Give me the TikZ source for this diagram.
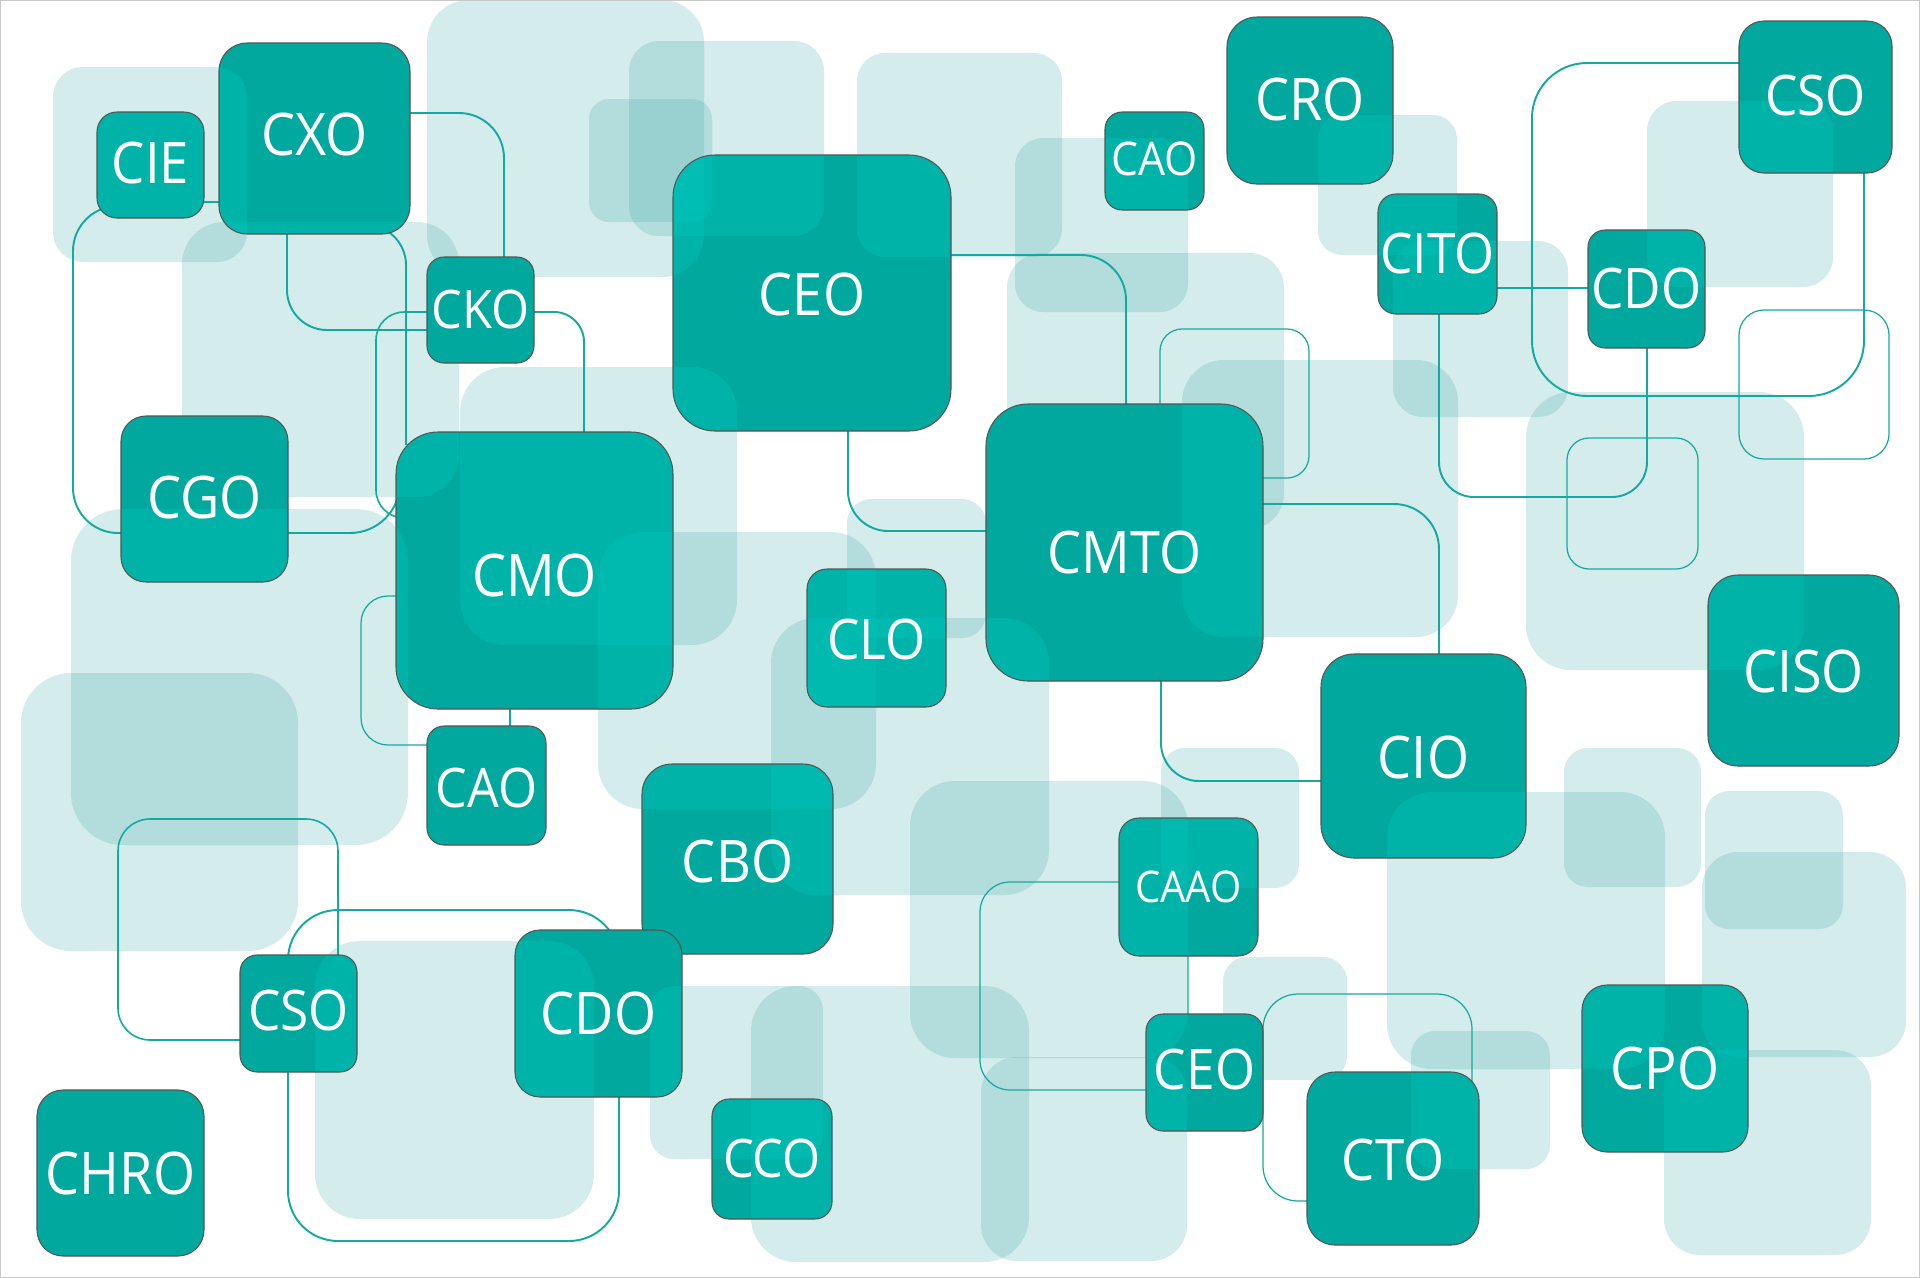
\documentclass[tikz,border=0pt]{standalone}
\usepackage{fontspec}
\newfontfamily\labfont[FakeStretch=0.92]{Open Sans}
\usetikzlibrary{calc}
\definecolor{boxc}{RGB}{0,168,157}
\definecolor{brightc}{RGB}{0,200,190}
\definecolor{lightc}{RGB}{70,173,173}
\definecolor{linec}{RGB}{20,170,160}
\definecolor{edgec}{RGB}{85,85,85}
\definecolor{framec}{RGB}{200,200,200}

% light square: x1 y1 x2 y2 radius(cm)
\newcommand\lsq[5]{\fill[rounded corners=#5cm] (#1,#2) rectangle (#3,#4);}
\newcommand\defsq[6]{\expandafter\def\csname lsqX#1\endcsname{\lsq{#2}{#3}{#4}{#5}{#6}}}
\newcommand\usesq[1]{\csname lsqX#1\endcsname}

\defsq{1}{53}{67}{247}{262}{0.30}
\defsq{2}{182}{222}{459}{497}{0.42}
\defsq{3}{427}{0}{704}{277}{0.42}
\defsq{4}{589}{99}{712}{222}{0.20}
\defsq{5}{629}{41}{824}{236}{0.30}
\defsq{6}{857}{53}{1062}{257}{0.28}
\defsq{7}{1015}{138}{1188}{312}{0.28}
\defsq{8}{1007}{253}{1284}{529}{0.35}
\defsq{9}{1182}{360}{1458}{637}{0.42}
\defsq{10}{1318}{115}{1457}{255}{0.24}
\defsq{11}{1393}{241}{1568}{417}{0.30}
\defsq{12}{1647}{101}{1833}{287}{0.30}
\defsq{13}{1526}{392}{1804}{670}{0.45}
\defsq{14}{71}{509}{408}{845}{0.52}
\defsq{15}{21}{673}{298}{951}{0.50}
\defsq{16}{598}{532}{876}{809}{0.45}
\defsq{17}{460}{367}{737}{645}{0.45}
\defsq{18}{771}{618}{1049}{895}{0.45}
\defsq{19}{847}{499}{986}{638}{0.24}
\defsq{20}{910}{781}{1188}{1058}{0.45}
\defsq{21}{1161}{748}{1299}{888}{0.24}
\defsq{23}{1564}{748}{1701}{887}{0.24}
\defsq{24}{1705}{791}{1843}{929}{0.24}
\defsq{25}{1702}{852}{1906}{1057}{0.36}
\defsq{26}{1387}{792}{1665}{1069}{0.45}
\defsq{27}{1664}{1050}{1871}{1255}{0.36}
\defsq{28}{1411}{1031}{1550}{1169}{0.24}
\defsq{29}{1223}{957}{1347}{1080}{0.24}
\defsq{30}{981}{1057}{1187}{1261}{0.36}
\defsq{31}{751}{986}{1029}{1262}{0.45}
\defsq{32}{650}{986}{823}{1159}{0.24}
\defsq{33}{315}{941}{594}{1219}{0.45}

% dark box: name, corner1, corner2, radius, overlapping squares, font size, text dy, text
\newcommand\dbox[8]{%
  \fill[boxc, rounded corners=#4cm] (#2) rectangle (#3);
  \begin{scope}
    \clip[rounded corners=#4cm] (#2) rectangle (#3);
    \begin{scope}[fill=brightc, fill opacity=0.35]
      \foreach \k in {#5} {\usesq{\k}}
    \end{scope}
  \end{scope}
  \draw[edgec, line width=0.3pt, rounded corners=#4cm] (#2) rectangle (#3);
  \node[text=white, inner sep=0pt, font=\labfont\fontsize{#6}{#6}\selectfont]
    (#1) at ($(#2)!0.5!(#3)+(0,#7)$) {#8};
}

\tikzset{
  conn/.style={draw=linec, line width=0.55pt},
  connm/.style={draw=linec, line width=0.45pt},
  connt/.style={draw=linec, line width=0.35pt}
}

\begin{document}
\begin{tikzpicture}[x=0.01cm, y=-0.01cm]
\useasboundingbox (0,0) rectangle (1920,1278);
\fill[white] (0,0) rectangle (1920,1278);
\clip (0,0) rectangle (1920,1278);

% light background squares
\begin{scope}[fill=lightc, fill opacity=0.23]
  \foreach \k in {1,2,3,4,5,6,7,8,9,10,11,12,13,14,15,16,17,18,19,20,21,23,24,25,26,27,28,29,30,31,32,33} {\usesq{\k}}
\end{scope}

% connectors
\draw[conn, rounded corners=0.45cm] (150,206) -| (73,533) -- (125,533);
\draw[connm] (204,202) -- (219,202);
\draw[conn, rounded corners=0.45cm] (405,113) -| (504,260);
\draw[conn, rounded corners=0.4cm] (287,230) |- (430,330);
\draw[conn, rounded corners=0.4cm] (340,225) -| (406,445);
\draw[connm, rounded corners=0.28cm] (430,312) -| (376,518) -- (420,518);
\draw[conn, rounded corners=0.5cm] (285,533) -| (400,470);
\draw[conn, rounded corners=0.3cm] (530,312) -| (584,436);
\draw[connt, rounded corners=0.27cm] (400,596) -| (361,745) -- (430,745);
\draw[connm] (510,705) -- (510,730);
\draw[conn, rounded corners=0.4cm] (848,428) |- (990,531);
\draw[conn, rounded corners=0.45cm] (948,255) -| (1126,408);
\draw[connt, rounded corners=0.22cm] (1160,329) rectangle (1309,478);
\draw[conn, rounded corners=0.45cm] (1260,504) -| (1439,658);
\draw[conn, rounded corners=0.38cm] (1161,678) |- (1325,781);
\draw[conn, rounded corners=0.35cm] (1439,310) |- (1647,497) -- (1647,344);
\draw[connm] (1497,288) -- (1588,288);
\draw[conn, rounded corners=0.55cm] (1532,63) rectangle (1864,396);
\draw[connt, rounded corners=0.25cm] (1739,310) rectangle (1889,459);
\draw[connt, rounded corners=0.22cm] (1567,438) rectangle (1698,569);
\draw[connm, rounded corners=0.32cm] (118,819) rectangle (338,1040);
\draw[conn, rounded corners=0.5cm] (288,910) rectangle (619,1241);
\draw[connt, rounded corners=0.3cm] (980,882) rectangle (1188,1090);
\draw[connt, rounded corners=0.35cm] (1263,994) rectangle (1472,1201);

% dark boxes
\dbox{CIE}{97,112}{204,218}{0.20}{1}{16.3}{-2}{CIE}
\dbox{CXO}{219,43}{410,234}{0.28}{1,2}{16.7}{-4}{CXO}
\dbox{CKO}{427,257}{534,363}{0.17}{}{15.1}{-1}{CKO}
\dbox{CEO}{673,155}{951,431}{0.42}{3,4,5,6,17}{16.7}{1}{CEO}
\dbox{CAOa}{1105,112}{1204,210}{0.17}{7}{13.2}{-2}{CAO}
\dbox{CRO}{1227,17}{1393,184}{0.30}{10}{16.7}{-1}{CRO}
\dbox{CITO}{1378,194}{1497,314}{0.18}{10,11}{15.9}{-1}{CITO}
\dbox{CSOa}{1739,21}{1892,173}{0.25}{12}{15.9}{-2}{CSO}
\dbox{CDOa}{1588,230}{1705,348}{0.17}{12}{15.9}{-1}{CDO}
\dbox{CGO}{121,416}{288,582}{0.25}{14}{16.7}{-2}{CGO}
\dbox{CMO}{396,432}{673,709}{0.42}{2,14,16,17}{16.7}{5}{CMO}
\dbox{CAOb}{427,726}{546,845}{0.17}{}{15.5}{2}{CAO}
\dbox{CLO}{807,569}{946,707}{0.20}{16,18,19}{15.9}{1}{CLO}
\dbox{CMTO}{986,404}{1263,681}{0.42}{9,18}{16.7}{10}{CMTO}
\dbox{CIO}{1321,654}{1526,858}{0.33}{26}{16.7}{1}{CIO}
\dbox{CISO}{1708,575}{1899,766}{0.30}{13}{16.7}{1}{CISO}
\dbox{CBO}{642,764}{833,954}{0.30}{16,18}{16.7}{2}{CBO}
\dbox{CDOb}{515,930}{682,1097}{0.25}{32,33}{16.7}{0}{CDO}
\dbox{CSOb}{240,955}{357,1072}{0.17}{33}{15.9}{-3}{CSO}
\dbox{CHRO}{37,1090}{204,1256}{0.26}{}{16.7}{0}{CHRO}
\dbox{CCO}{712,1099}{832,1219}{0.17}{31,32}{15.1}{-1}{CCO}
\dbox{CAAO}{1119,818}{1258,956}{0.20}{20,21}{12.4}{0}{CAAO}
\dbox{CEOb}{1146,1014}{1263,1131}{0.17}{20,30}{15.9}{-3}{CEO}
\dbox{CTO}{1307,1072}{1479,1245}{0.28}{28}{16.3}{1}{CTO}
\dbox{CPO}{1582,985}{1748,1152}{0.25}{25,26,27}{16.7}{0}{CPO}

% frame
\draw[framec, line width=0.4pt] (0.7,0.7) rectangle (1919.3,1277.3);
\end{tikzpicture}
\end{document}
